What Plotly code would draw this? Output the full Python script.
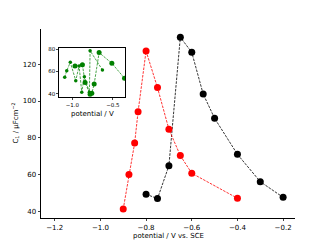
import plotly.graph_objects as go

# Main data
black_x = [-0.8, -0.75, -0.7, -0.65, -0.6, -0.55, -0.5, -0.4, -0.3, -0.2]
black_y = [49.3, 46.9, 64.8, 134.7, 126.5, 103.8, 90.6, 71.0, 56.1, 47.6]

red_x = [-0.9, -0.875, -0.85, -0.835, -0.8, -0.75, -0.7, -0.65, -0.6, -0.4]
red_y = [41.2, 60.0, 77.1, 94.2, 127.2, 107.3, 84.6, 70.3, 60.7, 47.1]

# Inset data
inset1_x = [-1.094, -1.069, -1.025, -0.958, -0.917, -0.884, -0.852, -0.79, -0.781, -0.629]
inset1_y = [54.8, 60.7, 68.3, 51.7, 65.0, 41.3, 55.3, 41.3, 78.7, 61.4]
inset2_x = [-0.967, -0.876, -0.843, -0.781, -0.76, -0.731, -0.67, -0.513, -0.357]
inset2_y = [65.0, 66.1, 50.0, 39.5, 40.4, 48.7, 77.0, 67.4, 53.9]

main_xticks = [-1.2, -1.0, -0.8, -0.6, -0.4, -0.2]
main_yticks = [40, 60, 80, 100, 120]
inset_xticks = [-1.0, -0.5]
inset_yticks = [40, 60, 80]

FONT = "DejaVu Sans"
DASH = "2.6px,1.2px"

fig = go.Figure()
fig.add_trace(go.Scatter(x=black_x, y=black_y, mode="lines+markers",
                         line=dict(color="black", width=0.8, dash=DASH),
                         marker=dict(color="black", size=7), xaxis="x", yaxis="y"))
fig.add_trace(go.Scatter(x=red_x, y=red_y, mode="lines+markers",
                         line=dict(color="red", width=0.8, dash=DASH),
                         marker=dict(color="red", size=7), xaxis="x", yaxis="y"))
fig.add_trace(go.Scatter(x=inset1_x, y=inset1_y, mode="lines+markers",
                         line=dict(color="green", width=0.7, dash=DASH),
                         marker=dict(color="green", size=3.5), xaxis="x2", yaxis="y2"))
fig.add_trace(go.Scatter(x=inset2_x, y=inset2_y, mode="lines+markers",
                         line=dict(color="green", width=0.7, dash=DASH),
                         marker=dict(color="green", size=5), xaxis="x2", yaxis="y2"))

# The page body adds an 8px offset, so the figure is 8px smaller and margins compensate
fig.update_layout(
    width=320, height=237,
    margin=dict(l=33, r=33, t=21, b=27),
    paper_bgcolor="white", plot_bgcolor="white",
    showlegend=False,
    font=dict(family=FONT, size=7, color="black"),
    xaxis=dict(domain=[0, 1], range=[-1.26, -0.148], tickvals=main_xticks,
               tickformat=".1f", automargin=False,
               ticks="outside", ticklen=2.5, tickwidth=0.7, showline=True,
               linecolor="black", linewidth=0.8, showgrid=False, zeroline=False,
               tickfont=dict(size=7)),
    yaxis=dict(domain=[0, 1], range=[36.35, 139.2], tickvals=main_yticks,
               automargin=False,
               ticks="outside", ticklen=2.5, tickwidth=0.7, showline=True,
               linecolor="black", linewidth=0.8, showgrid=False, zeroline=False,
               tickfont=dict(size=7)),
    xaxis2=dict(domain=[0.072, 0.331], anchor="y2", range=[-1.161, -0.35],
                tickvals=inset_xticks, tickformat=".1f", ticks="outside", ticklen=2, tickwidth=0.6,
                showline=True, mirror=True, linecolor="black", linewidth=0.8,
                showgrid=False, zeroline=False, tickfont=dict(size=5.5), automargin=False),
    yaxis2=dict(domain=[0.639, 0.898], anchor="x2", range=[36.8, 80.9],
                tickvals=inset_yticks, ticks="outside", ticklen=2, tickwidth=0.6,
                showline=True, mirror=True, linecolor="black", linewidth=0.8,
                showgrid=False, zeroline=False, tickfont=dict(size=5.5), automargin=False),
    annotations=[
        dict(text="potential / V vs. SCE", xref="paper", yref="paper", x=0.5, y=-0.094,
             xanchor="center", yanchor="middle", showarrow=False, font=dict(size=7)),
        dict(text="C<sub>1</sub> / μFcm<sup>−2</sup>", xref="paper", yref="paper", x=-0.106, y=0.5,
             xanchor="center", yanchor="middle", textangle=-90, showarrow=False, font=dict(size=7)),
        dict(text="potential / V", xref="paper", yref="paper", x=0.201, y=0.552,
             xanchor="center", yanchor="middle", showarrow=False, font=dict(size=7)),
    ],
)

fig.write_html("out.html")
